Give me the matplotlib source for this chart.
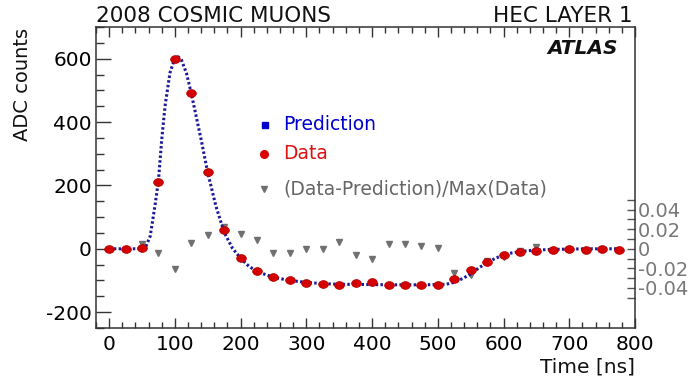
import numpy as np
import matplotlib
matplotlib.use("Agg")
import matplotlib.pyplot as plt
from matplotlib.path import Path
from matplotlib.transforms import Affine2D
from matplotlib.ticker import MultipleLocator, FixedLocator

plt.rcParams['font.family'] = ['DejaVu Sans']
plt.rcParams['axes.unicode_minus'] = False

# Measured samples (time in ns)
data_time = [0, 25, 50, 75, 100, 125, 150, 175, 200, 225, 250, 275, 300, 325,
             350, 375, 400, 425, 450, 475, 500, 525, 550, 575, 600, 625, 650,
             675, 700, 725, 750, 775]
data_adc = [0, 0, 1, 212, 600, 493, 242, 58, -30, -70, -88, -99, -107, -110,
            -115, -107, -104, -113, -113, -113, -113, -95, -68, -41, -19, -11,
            -6, -5, -1, -5, 0, -3]

# Predicted pulse shape
pred_time = [0, 25, 50, 55, 62.5, 70, 75, 80, 85, 92.5, 100, 105, 110, 117.5,
             125, 140, 150, 162.5, 175, 187.5, 200, 212.5, 225, 250, 275, 300,
             325, 350, 400, 450, 500, 512.5, 525, 537.5, 550, 562.5, 575, 587.5,
             600, 612.5, 625, 637.5, 650, 675, 700, 725, 780]
pred_adc = [0, 0, 0, 3, 40, 140, 215, 345, 450, 555, 602, 606, 596, 555,
            490, 344, 240, 134, 52, 2, -30, -55, -72, -90, -100, -106,
            -110, -112, -113, -114, -113, -112, -106, -94, -80, -60, -44, -30,
            -20, -13, -9, -6, -4, -2, -1, 0, 0]

# (Data - Prediction) / Max(Data)
ratio_time = [50, 75, 100, 125, 150, 175, 200, 225, 250, 275, 300, 325, 350,
              375, 400, 425, 450, 475, 500, 525, 550, 575, 600, 625, 650]
ratio_val = [0.005, -0.004, -0.021, 0.006, 0.014, 0.022, 0.015, 0.009, -0.004,
             -0.004, 0.0, 0.0, 0.007, -0.006, -0.010, 0.0045, 0.0045, 0.003,
             0.001, -0.025, -0.027, -0.013, -0.008, -0.002, 0.002]

ratio_ticks = [-0.04, -0.02, 0, 0.02, 0.04]
ratio_labels = ['-0.04', '-0.02', '0', '0.02', '0.04']

W, H = 696, 382
fig = plt.figure(figsize=(W / 100, H / 100), dpi=100)
ax = fig.add_axes([96 / W, 1 - 328 / H, (635 - 96) / W, (328 - 27) / H])

ymin, ymax = -250, 700
ax.set_xlim(-20, 800)
ax.set_ylim(ymin, ymax)

frame_col = '#333333'
for s in ax.spines.values():
    s.set_color(frame_col)
    s.set_linewidth(1.1)

ax.xaxis.set_major_locator(MultipleLocator(100))
ax.xaxis.set_minor_locator(MultipleLocator(20))
ax.yaxis.set_major_locator(MultipleLocator(200))
ax.yaxis.set_minor_locator(MultipleLocator(50))
ax.tick_params(axis='x', which='major', direction='in', length=7, width=1,
               top=True, color=frame_col, labelsize=14.5, pad=5)
ax.tick_params(axis='x', which='minor', direction='in', length=4, width=1,
               top=True, color=frame_col)
ax.tick_params(axis='y', which='major', direction='in', length=11, width=1,
               right=True, color=frame_col, labelsize=14.5, pad=3)
ax.tick_params(axis='y', which='minor', direction='in', length=5.5, width=1,
               right=True, color=frame_col)

# ratio axis sharing the zero of the ADC axis
scale = 3083.0
rax = ax.twinx()
rax.set_ylim(ymin / scale, ymax / scale)
for s in rax.spines.values():
    s.set_visible(False)
rax.yaxis.set_major_locator(FixedLocator(ratio_ticks))
rax.yaxis.set_minor_locator(FixedLocator([-0.05, -0.03, -0.01, 0.01, 0.03, 0.05]))
rax.set_yticklabels(ratio_labels)
rax.tick_params(axis='y', which='major', direction='in', length=6, width=1,
                color='#555555', labelcolor='#777777', labelsize=14, pad=2)
rax.tick_params(axis='y', which='minor', direction='in', length=6, width=1,
                color='#555555')

# elliptical dot marker
circ = Path.unit_circle()
ell = Path(Affine2D().scale(1.25, 1.0).transform(circ.vertices), circ.codes)

ax.plot(pred_time, pred_adc, color='#1a1a9a', lw=2.2,
        linestyle=(0, (0.8, 0.75)), zorder=2)
rax.plot(ratio_time, ratio_val, linestyle='none', marker='v', ms=4.2,
         color='#707070', mec='#707070', zorder=3)
ax.plot(data_time, data_adc, linestyle='none', marker=ell, ms=7,
        color='#d40000', mec='#b00000', mew=0.5, zorder=4)
ax.set_zorder(rax.get_zorder() + 1)
ax.patch.set_visible(False)

# legend
fx = lambda px: px / W
fy = lambda py: 1 - py / H
fig.lines.append(plt.Line2D([fx(265)], [fy(124.5)], marker='s', ms=5,
                            color='#0000cc', transform=fig.transFigure))
fig.lines.append(plt.Line2D([fx(264)], [fy(153.5)], marker='o', ms=5.5,
                            color='#dd0000', transform=fig.transFigure))
fig.lines.append(plt.Line2D([fx(264)], [fy(189)], marker='v', ms=5,
                            color='#707070', transform=fig.transFigure))
fig.text(fx(283), fy(125), 'Prediction', color='#0000cc', fontsize=13.5,
         va='center', ha='left')
fig.text(fx(283), fy(154), 'Data', color='#dd1111', fontsize=13.5,
         va='center', ha='left')
fig.text(fx(283), fy(189), '(Data-Prediction)/Max(Data)', color='#666666',
         fontsize=13.5, va='center', ha='left')

# header and labels
fig.text(fx(96), fy(22.5), '2008 COSMIC MUONS', fontsize=15.5, ha='left',
         va='baseline', color='#111111')
fig.text(fx(633), fy(22.5), 'HEC LAYER 1', fontsize=15.5, ha='right',
         va='baseline', color='#111111')
fig.text(fx(618), fy(54.5), 'ATLAS', fontsize=14.5, ha='right', va='baseline',
         fontweight='bold', fontstyle='italic', color='#111111')
fig.text(fx(22), fy(28), 'ADC counts', rotation=90, fontsize=14,
         ha='center', va='top', color='#111111')
fig.text(fx(635), fy(367), 'Time [ns]', fontsize=14.5, ha='right',
         va='center', color='#111111')

fig.savefig('out.png', dpi=100, facecolor='white')
